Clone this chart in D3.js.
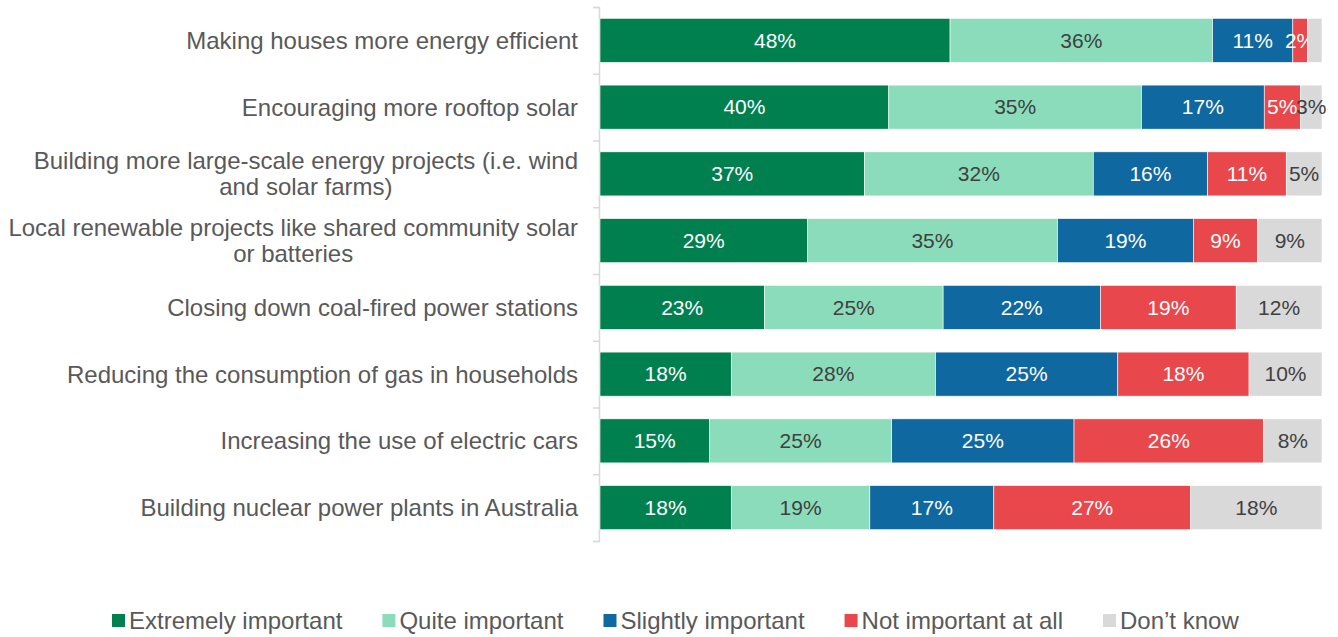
<!DOCTYPE html>
<html>
<head>
<meta charset="utf-8">
<script src="https://cdn.jsdelivr.net/npm/d3@7"></script>
<style>
  body { margin: 0; background: #fff; }
  text { font-family: "Liberation Sans", Arial, sans-serif; }
</style>
</head>
<body>
<script>
var width = 1338,
    height = 637;

// categories (top to bottom)
var categories = [
  "Making houses more energy efficient",
  "Encouraging more rooftop solar",
  "Building more large-scale energy projects (i.e. wind and solar farms)",
  "Local renewable projects like shared community solar or batteries",
  "Closing down coal-fired power stations",
  "Reducing the consumption of gas in households",
  "Increasing the use of electric cars",
  "Building nuclear power plants in Australia"
];

// series values, in %
var extremely = [48, 40, 37, 29, 23, 18, 15, 18];
var quite     = [36, 35, 32, 35, 25, 28, 25, 19];
var slightly  = [11, 17, 16, 19, 22, 25, 25, 17];
var notAtAll  = [2, 5, 11, 9, 19, 18, 26, 27];
var dontKnow  = [2, 3, 5, 9, 12, 10, 8, 18];

var seriesNames = ["Extremely important", "Quite important", "Slightly important", "Not important at all", "Don\u2019t know"];
var seriesData = [extremely, quite, slightly, notAtAll, dontKnow];
var colors = ["#00804f", "#8adcbb", "#0f68a0", "#e8474b", "#d9d9d9"];
var labelColors = ["#fff", "#404040", "#fff", "#fff", "#404040"];

var rows = categories.map(function (c, i) {
  var r = { cat: c };
  seriesNames.forEach(function (s, k) { r[s] = seriesData[k][i]; });
  return r;
});

// every bar is scaled to a full 100%
var stack = d3.stack().keys(seriesNames).offset(d3.stackOffsetExpand);
var layers = stack(rows);

var x = d3.scaleLinear().domain([0, 1]).range([600, 1322]);
var y = d3.scaleBand().domain(categories).range([7, 541])
    .paddingInner(0.34).paddingOuter(0.17);

var svg = d3.select("body").append("svg")
    .attr("width", width)
    .attr("height", height);

// left axis line with ticks between categories
var yTicks = d3.scaleLinear().domain([0, categories.length]).range([7, 541]);
var axis = svg.append("g")
    .attr("transform", "translate(599,0)")
    .call(d3.axisLeft(yTicks).tickValues(d3.range(categories.length + 1)).tickSize(6).tickFormat(""));
axis.select(".domain").attr("stroke", "#d9d9d9").attr("stroke-width", 1.5);
axis.selectAll(".tick line").attr("stroke", "#d9d9d9").attr("stroke-width", 1.5);

// bars
var layer = svg.selectAll(".layer")
    .data(layers)
    .enter().append("g")
    .attr("class", "layer")
    .attr("fill", function (d, i) { return colors[i]; });

layer.selectAll("rect")
    .data(function (d) { return d; })
    .enter().append("rect")
    .attr("x", function (d) { return x(d[0]); })
    .attr("y", function (d) { return y(d.data.cat); })
    .attr("width", function (d) { return x(d[1]) - x(d[0]); })
    .attr("height", y.bandwidth())
    .attr("stroke", "#fff")
    .attr("stroke-width", 0.6);

// value labels (the tiny "Don't know" in row 1 has none)
layer.each(function (L, k) {
  d3.select(this).selectAll("text")
    .data(L.filter(function (d) { return !(k === 4 && d.data[L.key] < 3); }))
    .enter().append("text")
    .attr("x", function (d) { return (x(d[0]) + x(d[1])) / 2; })
    .attr("y", function (d) { return y(d.data.cat) + y.bandwidth() / 2; })
    .attr("dy", "0.35em")
    .attr("text-anchor", "middle")
    .attr("fill", labelColors[k])
    .style("font-size", "21px")
    .text(function (d) { return d.data[L.key] + "%"; });
});

// category labels, wrapped, block right aligned, lines centred
var labelRight = 578, wrapWidth = 576, lineH = 26;
var catG = svg.append("g");
categories.forEach(function (c) {
  var t = catG.append("text")
      .attr("fill", "#595959")
      .style("font-size", "24px");
  var words = c.split(" "), lines = [], line = [];
  var probe = t.append("tspan");
  words.forEach(function (w) {
    line.push(w);
    probe.text(line.join(" "));
    if (probe.node().getComputedTextLength() > wrapWidth && line.length > 1) {
      line.pop();
      lines.push(line.join(" "));
      line = [w];
    }
  });
  lines.push(line.join(" "));
  probe.remove();
  var cy = y(c) + y.bandwidth() / 2;
  var spans = lines.map(function (l, i) {
    return t.append("tspan")
      .attr("y", cy + (i - (lines.length - 1) / 2) * lineH)
      .attr("dy", "0.35em")
      .text(l);
  });
  var maxW = d3.max(spans, function (s) { return s.node().getComputedTextLength(); });
  spans.forEach(function (s) {
    s.attr("x", labelRight - maxW / 2).attr("text-anchor", "middle");
  });
});

// legend
var legend = svg.append("g");
var lx = 112;
seriesNames.forEach(function (s, i) {
  legend.append("rect")
    .attr("x", lx).attr("y", 614)
    .attr("width", 13).attr("height", 13)
    .attr("fill", colors[i]);
  var t = legend.append("text")
    .attr("x", lx + 17).attr("y", 629)
    .attr("fill", "#595959")
    .style("font-size", "24px")
    .text(s);
  lx += 17 + t.node().getComputedTextLength() + 40;
});
</script>
</body>
</html>
